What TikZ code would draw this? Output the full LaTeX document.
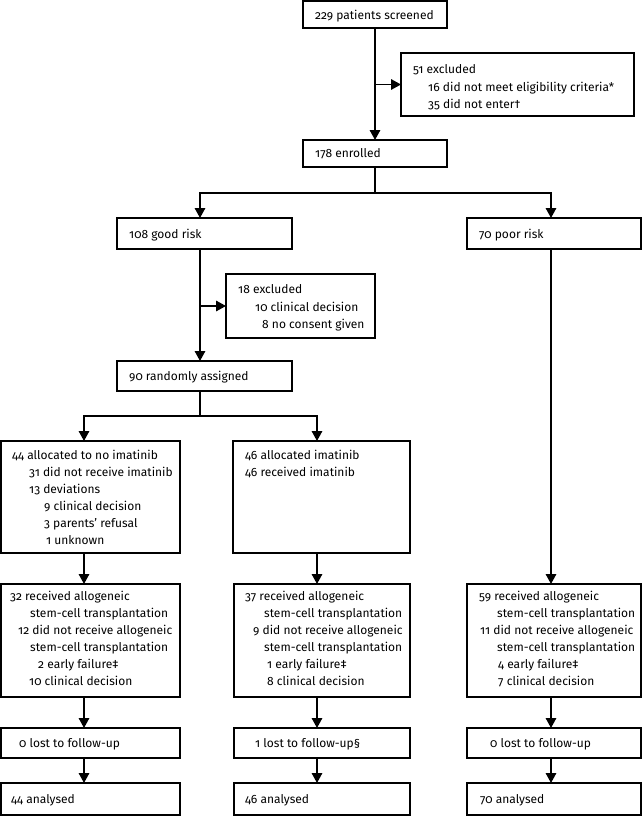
\documentclass[tikz,border=0pt]{standalone}
\usepackage{fontspec}
\setmainfont{Fira Sans}[Numbers=OldStyle]
\usetikzlibrary{arrows.meta}
\newcommand\bx[5]{\node[boxst, anchor=north west, minimum width={#4-#2}, minimum height={#5-#3}] (#1) at (#2,#3) {};}
\newcommand\tl[4]{\node[txt] (#1) at (#2,#3) {#4};}
\begin{document}
\begin{tikzpicture}[x=1pt,y=-1pt,
  boxst/.style={draw=black, line width=1.6pt, inner sep=0pt, outer sep=0pt, fill=none},
  txt/.style={anchor=base west, inner sep=0pt, font=\fontsize{12}{14}\selectfont},
  arr/.style={line width=1.6pt, -{Triangle[length=10pt,width=10.5pt]}},
  ln/.style={line width=1.6pt}]
\useasboundingbox (0,0) rectangle (643,816);
% boxes
\bx{A}{303}{1}{447}{28}
\bx{B}{401}{53}{634}{116}
\bx{C}{303}{140}{447}{167}
\bx{D}{117}{218}{292}{249}
\bx{E}{467}{218}{641}{249}
\bx{G}{226}{274}{375}{338}
\bx{F}{117}{361}{292}{391}
\bx{H}{1}{441}{180}{553}
\bx{I}{233}{441}{410}{553}
\bx{J}{1}{584}{180}{697}
\bx{K}{234}{584}{410}{697}
\bx{L}{467}{584}{641}{697}
\bx{M}{1}{728}{180}{758}
\bx{N}{234}{728}{410}{758}
\bx{O}{467}{728}{641}{758}
\bx{P}{1}{783}{180}{815}
\bx{Q}{234}{783}{410}{815}
\bx{R}{467}{783}{641}{815}
% texts
\tl{tA}{315}{20}{229 patients screened}
\tl{tB1}{413}{74}{51 excluded}
\tl{tB2}{428}{91}{16 did not meet eligibility criteria*}
\tl{tB3}{428}{108}{35 did not enter†}
\tl{tC}{315}{157}{178 enrolled}
\tl{tD}{129}{238}{108 good risk}
\tl{tE}{479}{238}{70 poor risk}
\tl{tG1}{238}{293}{18 excluded}
\tl{tG2}{255}{311}{10 clinical decision}
\tl{tG3}{262}{328}{8 no consent given}
\tl{tF}{129}{380}{90 randomly assigned}
\tl{tH1}{12}{459}{44 allocated to no imatinib}
\tl{tH2}{29}{476}{31 did not receive imatinib}
\tl{tH3}{29}{493}{13 deviations}
\tl{tH4}{44}{510}{9 clinical decision}
\tl{tH5}{44}{527}{3 parents’ refusal}
\tl{tH6}{46}{544}{1 unknown}
\tl{tI1}{245}{459}{46 allocated imatinib}
\tl{tI2}{245}{476}{46 received imatinib}
\tl{tJ1}{10}{600}{32 received allogeneic}
\tl{tJ2}{30}{617}{stem-cell transplantation}
\tl{tJ3}{18}{634}{12 did not receive allogeneic}
\tl{tJ4}{30}{651}{stem-cell transplantation}
\tl{tJ5}{38}{668}{2 early failure‡}
\tl{tJ6}{29}{685}{10 clinical decision}
\tl{tK1}{245}{600}{37 received allogeneic}
\tl{tK2}{264}{617}{stem-cell transplantation}
\tl{tK3}{253}{634}{9 did not receive allogeneic}
\tl{tK4}{264}{651}{stem-cell transplantation}
\tl{tK5}{267}{668}{1 early failure‡}
\tl{tK6}{267}{685}{8 clinical decision}
\tl{tL1}{479}{600}{59 received allogeneic}
\tl{tL2}{497}{617}{stem-cell transplantation}
\tl{tL3}{480}{634}{11 did not receive allogeneic}
\tl{tL4}{497}{651}{stem-cell transplantation}
\tl{tL5}{498}{668}{4 early failure‡}
\tl{tL6}{498}{685}{7 clinical decision}
\tl{tM}{19}{747}{0 lost to follow-up}
\tl{tN}{255}{747}{1 lost to follow-up§}
\tl{tO}{490}{747}{0 lost to follow-up}
\tl{tP}{11}{803}{44 analysed}
\tl{tQ}{245}{803}{46 analysed}
\tl{tR}{480}{803}{70 analysed}
% connectors
\coordinate (sp1) at (375,193);
\coordinate (sp2) at (200,416);
\draw[arr] (A.south) -- (C.north);
\draw[arr] (A.south |- B.west) -- (B.west);
\draw[ln] (C.south) -- (sp1);
\draw[arr] (sp1) -| ([xshift=-4.5pt]D.north);
\draw[arr] (sp1) -| ([xshift=-3pt]E.north);
\draw[arr] ([xshift=-4.5pt]D.south) -- ([xshift=-4.5pt]F.north);
\draw[arr] ([xshift=-4.5pt]D.south |- G.west) -- (G.west);
\draw[ln] ([xshift=-4.5pt]F.south) -- (sp2);
\draw[arr] (sp2) -| ([xshift=-6.5pt]H.north);
\draw[arr] (sp2) -| ([xshift=-4.5pt]I.north);
\draw[arr] ([xshift=-6.5pt]H.south) -- ([xshift=-6.5pt]J.north);
\draw[arr] ([xshift=-4.5pt]I.south) -- ([xshift=-5pt]K.north);
\draw[arr] ([xshift=-3pt]E.south) -- ([xshift=-3pt]L.north);
\draw[arr] ([xshift=-6.5pt]J.south) -- ([xshift=-6.5pt]M.north);
\draw[arr] ([xshift=-5pt]K.south) -- ([xshift=-5pt]N.north);
\draw[arr] ([xshift=-3pt]L.south) -- ([xshift=-3pt]O.north);
\draw[arr] ([xshift=-6.5pt]M.south) -- ([xshift=-6.5pt]P.north);
\draw[arr] ([xshift=-5pt]N.south) -- ([xshift=-5pt]Q.north);
\draw[arr] ([xshift=-3pt]O.south) -- ([xshift=-3pt]R.north);
\end{tikzpicture}
\end{document}
